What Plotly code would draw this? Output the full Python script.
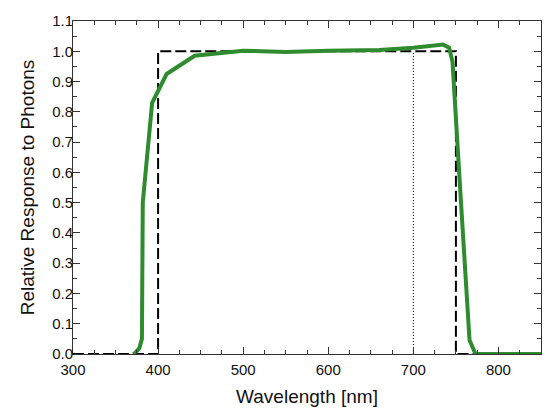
import plotly.graph_objects as go

# measured camera response (green) vs ideal band (dashed)
wavelength = [370, 372, 378, 381, 382, 386, 393, 410, 443, 500, 550, 600, 660, 700,
              735, 742, 746, 756, 766, 773, 850]
response = [0.0, 0.0, 0.02, 0.05, 0.5, 0.62, 0.83, 0.925, 0.985, 1.002, 0.998, 1.002,
            1.004, 1.012, 1.022, 1.012, 0.965, 0.5, 0.046, 0.0, 0.0]

ideal_x = [300, 400, 400, 750, 750, 850]
ideal_y = [0.0, 0.0, 1.0, 1.0, 0.0, 0.0]

marker_x = [700, 700]
marker_y = [0.0, 1.0]

x_ticks = [300, 400, 500, 600, 700, 800]
y_ticks = [0.0, 0.1, 0.2, 0.3, 0.4, 0.5, 0.6, 0.7, 0.8, 0.9, 1.0, 1.1]

font = "Liberation Sans, Arial, sans-serif"

fig = go.Figure()
fig.add_trace(go.Scatter(x=marker_x, y=marker_y, mode='lines',
                         line=dict(color='black', width=1, dash='1px,2px')))
fig.add_trace(go.Scatter(x=ideal_x, y=ideal_y, mode='lines',
                         line=dict(color='black', width=2, dash='11px,4px')))
fig.add_trace(go.Scatter(x=wavelength, y=response, mode='lines',
                         line=dict(color='#2e8b2e', width=4)))

axis_common = dict(showgrid=False, zeroline=False, showline=True, linecolor='#333',
                   linewidth=1, mirror='ticks', ticks='inside', ticklen=7,
                   tickcolor='#333', automargin=False,
                   tickfont=dict(size=15, color='#111', family=font))

fig.update_xaxes(range=[300, 850], tickvals=x_ticks,
                 minor=dict(ticks='inside', dtick=25, ticklen=4, tickcolor='#333'),
                 ticklabelstandoff=2,
                 title=dict(text="Wavelength [nm]", font=dict(size=19, color='#111', family=font),
                            standoff=12),
                 **axis_common)
fig.update_yaxes(range=[0, 1.1], tickvals=y_ticks, tickformat='.1f',
                 minor=dict(ticks='inside', dtick=0.05, ticklen=4, tickcolor='#333'),
                 ticklabelstandoff=-4,
                 title=dict(text="Relative Response to Photons",
                            font=dict(size=19, color='#111', family=font), standoff=12),
                 **axis_common)

# page is drawn with ~8px body offset, so the figure is a little smaller
fig.update_layout(width=547, height=407, showlegend=False,
                  margin=dict(l=65, r=14, t=13, b=61),
                  plot_bgcolor='white', paper_bgcolor='white')

fig.write_html("out.html")
